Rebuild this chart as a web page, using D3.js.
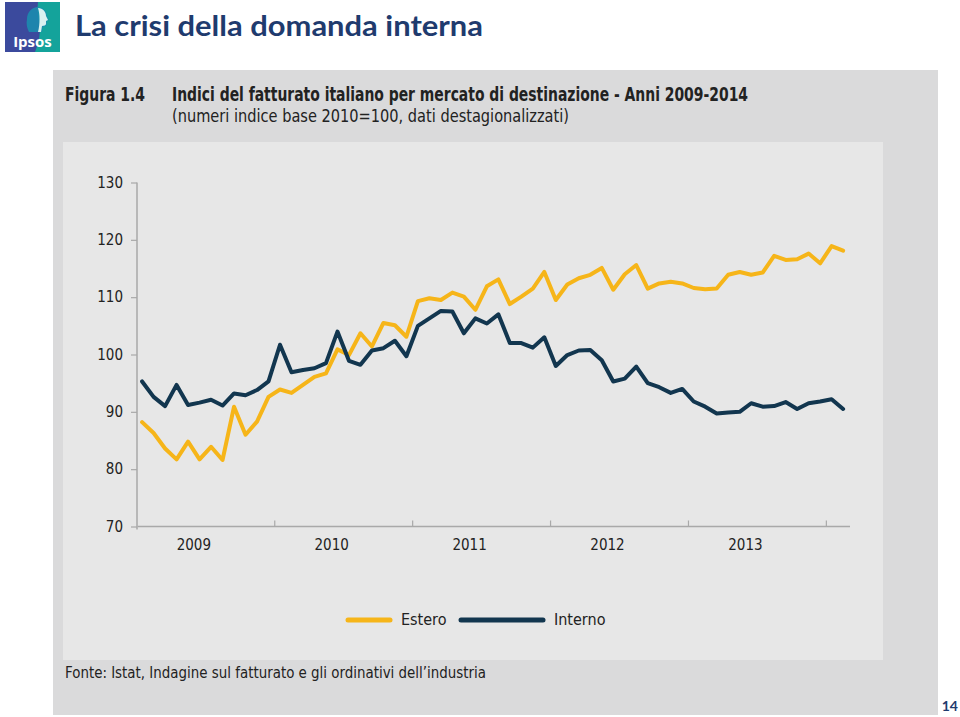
<!DOCTYPE html>
<html>
<head>
<meta charset="utf-8">
<script src="https://cdn.jsdelivr.net/npm/d3@7"></script>
<style>
  html, body { margin: 0; padding: 0; background: #fff; }
  svg { display: block; }
</style>
</head>
<body>
<svg id="chart" width="960" height="717"></svg>
<script>
// ---- Data (monthly, Jan 2009 - Feb 2014), index base 2010=100 ----
const years = ["2009", "2010", "2011", "2012", "2013"];
const yTicks = [70, 80, 90, 100, 110, 120, 130];
const estero = [
  88.2, 86.3, 83.6, 81.7, 84.8, 81.7, 83.9, 81.6, 90.9, 86.0, 88.3, 92.6,
  93.9, 93.3, 94.7, 96.1, 96.7, 100.9, 99.9, 103.7, 101.4, 105.5, 105.1, 103.1,
  109.3, 109.8, 109.5, 110.8, 110.1, 107.8, 111.9, 113.1, 108.8, 110.1, 111.5, 114.4,
  109.5, 112.2, 113.3, 113.9, 115.1, 111.3, 114.0, 115.6, 111.5, 112.4, 112.7, 112.4,
  111.6, 111.4, 111.5, 113.9, 114.4, 113.9, 114.3, 117.2, 116.5, 116.6, 117.6, 115.9,
  118.9, 118.1
];
const interno = [
  95.3, 92.6, 91.0, 94.7, 91.2, 91.6, 92.1, 91.1, 93.2, 92.9, 93.8, 95.3,
  101.7, 96.9, 97.3, 97.6, 98.5, 104.0, 98.9, 98.2, 100.7, 101.1, 102.4, 99.7,
  105.0, 106.3, 107.6, 107.5, 103.7, 106.3, 105.4, 107.0, 102.0, 102.0, 101.2, 103.0,
  98.0, 99.9, 100.7, 100.8, 99.0, 95.3, 95.8, 97.9, 95.0, 94.3, 93.3, 94.0,
  91.8, 90.9, 89.7, 89.9, 90.0, 91.5, 90.9, 91.0, 91.7, 90.5, 91.5, 91.8,
  92.2, 90.5
];
const seriesNames = ["Estero", "Interno"];
const seriesColors = ["#f6b519", "#12364f"];

const svg = d3.select("#chart");
const narrow = "'Liberation Sans Narrow', 'DejaVu Sans Condensed', 'Liberation Sans', Arial, sans-serif";

// ---- Ipsos logo ----
const logo = svg.append("g").attr("transform", "translate(5,2)");
logo.append("rect").attr("x", 0).attr("y", 0).attr("width", 55).attr("height", 50).attr("fill", "#3b4a9d");
logo.append("path")
  .attr("d", "M33,0 L55,0 L55,50 L30,50 C34,40 36,30 34,20 C33,12 32,6 33,0 Z")
  .attr("fill", "#14a39b");
// head silhouette
logo.append("path")
  .attr("d", "M24,30 C22,26 21,22 22,17 C22,10 27,5 33,5 C38,5 42,9 42,14 L44,18 L42,19 L42,22 C42,24 40,25 38,25 L37,30 Z")
  .attr("fill", "#1a8fb0").attr("opacity", 0.85);
logo.append("path")
  .attr("d", "M33,6 C38,6 41,10 41,14 L43,18 L41,19 L41,22 C41,23 39,24 37,24 L36,30 L33,30 C35,22 35,12 33,6 Z")
  .attr("fill", "#d9f1f0");
logo.append("text").attr("x", 27.5).attr("y", 45).attr("text-anchor", "middle")
  .attr("font-family", "'Open Sans', Arial, sans-serif").attr("font-weight", "bold")
  .attr("font-size", 15).attr("fill", "#fff").text("Ipsos");

// ---- Slide title ----
svg.append("text").attr("x", 75).attr("y", 36)
  .attr("font-family", "Lato, 'Open Sans', sans-serif").attr("font-weight", "bold")
  .attr("font-size", 28).attr("fill", "#1f3b6e")
  .attr("textLength", 408).attr("lengthAdjust", "spacingAndGlyphs")
  .text("La crisi della domanda interna");

// ---- Panels ----
svg.append("rect").attr("x", 53).attr("y", 70).attr("width", 885).attr("height", 645).attr("fill", "#dadadb");
svg.append("rect").attr("x", 63).attr("y", 142).attr("width", 820).attr("height", 518).attr("fill", "#e7e7e7");

// ---- Figure header ----
svg.append("text").attr("x", 65).attr("y", 101)
  .attr("font-family", narrow).attr("font-weight", "bold").attr("font-size", 19).attr("fill", "#222")
  .attr("textLength", 80).attr("lengthAdjust", "spacingAndGlyphs").text("Figura 1.4");
svg.append("text").attr("x", 172).attr("y", 101)
  .attr("font-family", narrow).attr("font-weight", "bold").attr("font-size", 19).attr("fill", "#222")
  .attr("textLength", 576).attr("lengthAdjust", "spacingAndGlyphs")
  .text("Indici del fatturato italiano per mercato di destinazione - Anni 2009-2014");
svg.append("text").attr("x", 172).attr("y", 122)
  .attr("font-family", narrow).attr("font-size", 18).attr("fill", "#222")
  .attr("textLength", 397).attr("lengthAdjust", "spacingAndGlyphs")
  .text("(numeri indice base 2010=100, dati destagionalizzati)");

// ---- Footer ----
svg.append("text").attr("x", 65).attr("y", 678)
  .attr("font-family", narrow).attr("font-size", 15).attr("fill", "#222")
  .attr("textLength", 421).attr("lengthAdjust", "spacingAndGlyphs")
  .text("Fonte: Istat, Indagine sul fatturato e gli ordinativi dell\u2019industria");
svg.append("text").attr("x", 958).attr("y", 711).attr("text-anchor", "end")
  .attr("font-family", "Lato, 'Open Sans', sans-serif").attr("font-weight", "bold")
  .attr("font-size", 14).attr("fill", "#1f3b6e").text("14");

// ---- Scales ----
const x = d3.scaleLinear().domain([-0.4, 61.6]).range([137.5, 850]);
const y = d3.scaleLinear().domain([70, 130]).range([526.5, 182.5]);
const axisColor = "#a9a9a9";

// Y axis
const yAxis = svg.append("g").attr("transform", "translate(137,0)")
  .call(d3.axisLeft(y).tickValues(yTicks).tickSize(6).tickPadding(8));
yAxis.select(".domain").attr("stroke", axisColor).attr("stroke-width", 1.5)
  .attr("d", `M0,${y(130)}V${y(70) + 3}`);
yAxis.selectAll(".tick line").attr("stroke", axisColor).attr("stroke-width", 1.2);
yAxis.selectAll(".tick text").attr("font-family", narrow).attr("font-size", 15).attr("fill", "#222");

// X axis
const yearTicks = years.map((d, i) => 12 * i + 11.5);
const xAxis = svg.append("g").attr("transform", `translate(0,${y(70)})`)
  .call(d3.axisTop(x).tickValues(yearTicks).tickSize(6).tickFormat(""));
xAxis.select(".domain").attr("stroke", axisColor).attr("stroke-width", 1.5)
  .attr("d", `M${x(-0.4)},0H${x(61.6)}`);
xAxis.selectAll(".tick line").attr("stroke", axisColor).attr("stroke-width", 1.2);

svg.append("g").selectAll("text").data(years).join("text")
  .attr("x", (d, i) => x(12 * i + 4.5)).attr("y", 550)
  .attr("text-anchor", "middle").attr("font-family", narrow).attr("font-size", 15).attr("fill", "#222")
  .text(d => d);

// ---- Lines ----
const line = d3.line().x((d, i) => x(i)).y(d => y(d));
[estero, interno].forEach((s, k) => {
  svg.append("path").datum(s).attr("d", line)
    .attr("fill", "none").attr("stroke", seriesColors[k]).attr("stroke-width", 4)
    .attr("stroke-linejoin", "round").attr("stroke-linecap", "round");
});

// ---- Legend ----
const legendX = [348, 461];
const legendLen = [42, 82];
const leg = svg.append("g");
seriesNames.forEach((n, k) => {
  leg.append("line").attr("x1", legendX[k]).attr("x2", legendX[k] + legendLen[k])
    .attr("y1", 620).attr("y2", 620)
    .attr("stroke", seriesColors[k]).attr("stroke-width", 5).attr("stroke-linecap", "round");
  leg.append("text").attr("x", legendX[k] + legendLen[k] + 11).attr("y", 625)
    .attr("font-family", narrow).attr("font-size", 16).attr("fill", "#222").text(n);
});
</script>
</body>
</html>
